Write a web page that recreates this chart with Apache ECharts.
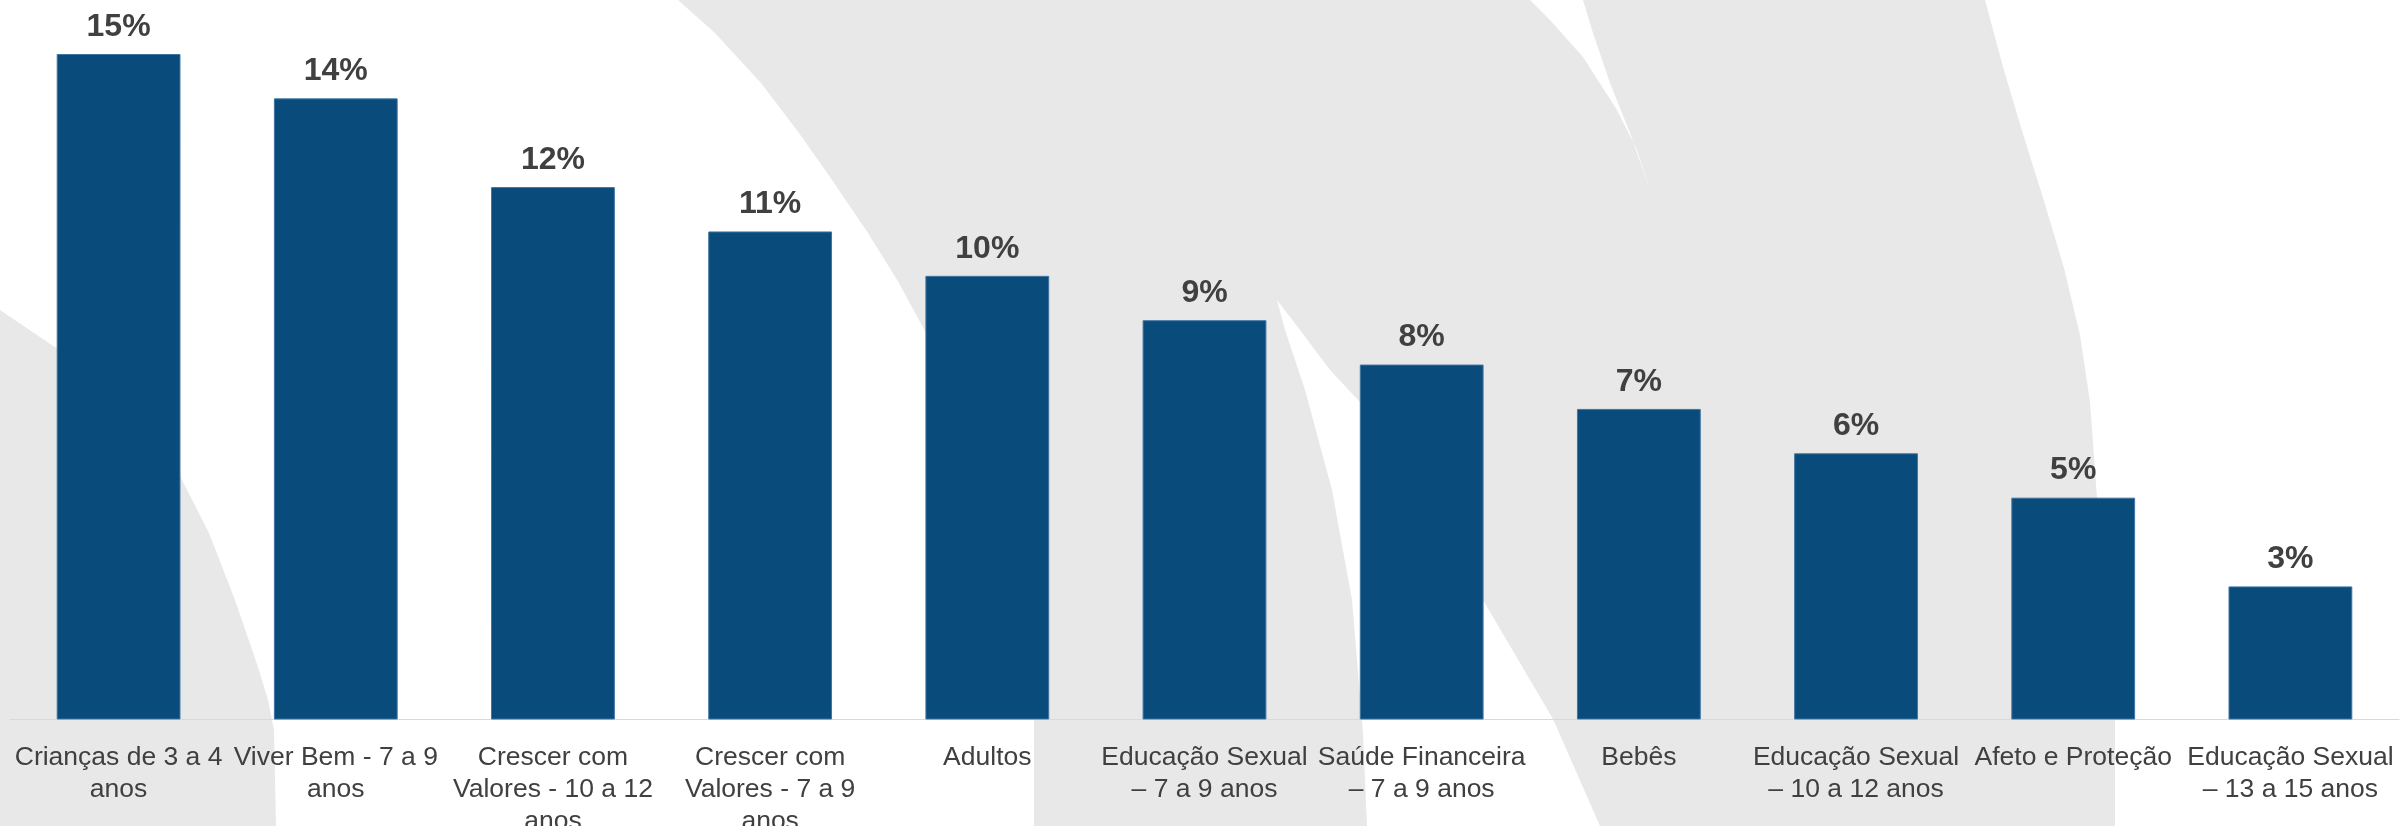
<!DOCTYPE html>
<html>
<head>
<meta charset="utf-8">
<script src="https://cdn.jsdelivr.net/npm/echarts@6/dist/echarts.min.js"></script>
<style>
  html, body { margin: 0; padding: 0; background: #ffffff; }
  #chart { width: 2400px; height: 826px; }
</style>
</head>
<body>
<div id="chart"></div>
<script>
const categories = [
  'Crianças de 3 a 4\nanos',
  'Viver Bem - 7 a 9\nanos',
  'Crescer com\nValores - 10 a 12\nanos',
  'Crescer com\nValores - 7 a 9\nanos',
  'Adultos',
  'Educação Sexual\n– 7 a 9 anos',
  'Saúde Financeira\n– 7 a 9 anos',
  'Bebês',
  'Educação Sexual\n– 10 a 12 anos',
  'Afeto e Proteção',
  'Educação Sexual\n– 13 a 15 anos'
];
const values = [15, 14, 12, 11, 10, 9, 8, 7, 6, 5, 3];

const FONT = '"Liberation Sans", Arial, sans-serif';
const GRAY = '#e8e8e8';

function bg(points, fill, z) {
  return { type: 'polygon', silent: true, z: z, shape: { points: points }, style: { fill: fill } };
}

const chart = echarts.init(document.getElementById('chart'), null, { renderer: 'canvas' });
chart.setOption({
  backgroundColor: '#ffffff',
  animation: false,
  graphic: {
    elements: [
      bg([[0,310],[170,425],[181,478],[209,533],[235,600],[258,667],[268,700],[274,730],[276,826],[0,826]], GRAY, -10),
      bg([[678,0],[715,33],[761,83],[799,133],[830,177],[868,233],[899,283],[926,333],[960,420],[990,520],[1015,620],[1030,700],[1034,720],[1034,826],
          [2115,826],[2115,720],[2097,498],[2090,402],[2080,335],[2064,268],[2044,201],[2023,134],[2003,67],[1985,0]], GRAY, -10),
      bg([[1530,0],[1583,0],[1593,33],[1610,83],[1630,133],[1650,190],[1637,150],[1617,110],[1583,57],[1550,20]], '#ffffff', -9),
      bg([[1277,300],[1300,330],[1330,370],[1360,402],[1420,500],[1483,600],[1553,719],[1600,826],[1367,826],[1363,733],[1352,600],[1332,490],[1305,390],[1285,330]], '#ffffff', -9)
    ]
  },
  grid: { left: 10, right: 1, top: 54, bottom: 106.5, containLabel: false, outerBoundsMode: 'none' },
  xAxis: {
    type: 'category',
    data: categories,
    axisLine: { show: true, lineStyle: { color: '#d9d9d9', width: 1 } },
    axisTick: { show: false },
    axisLabel: {
      interval: 0,
      margin: 22,
      color: '#404040',
      fontFamily: FONT,
      fontSize: 26.5,
      lineHeight: 32,
      align: 'center'
    }
  },
  yAxis: {
    type: 'value',
    min: 0,
    max: 15,
    show: false,
    splitLine: { show: false }
  },
  series: [{
    type: 'bar',
    data: values,
    barCategoryGap: '43%',
    itemStyle: { color: '#094b7a', borderColor: '#3f74a3', borderWidth: 1 },
    label: {
      show: true,
      position: 'top',
      distance: 11,
      formatter: '{c}%',
      color: '#404040',
      fontFamily: FONT,
      fontSize: 32,
      lineHeight: 32,
      fontWeight: 'bold'
    }
  }]
});
</script>
</body>
</html>
